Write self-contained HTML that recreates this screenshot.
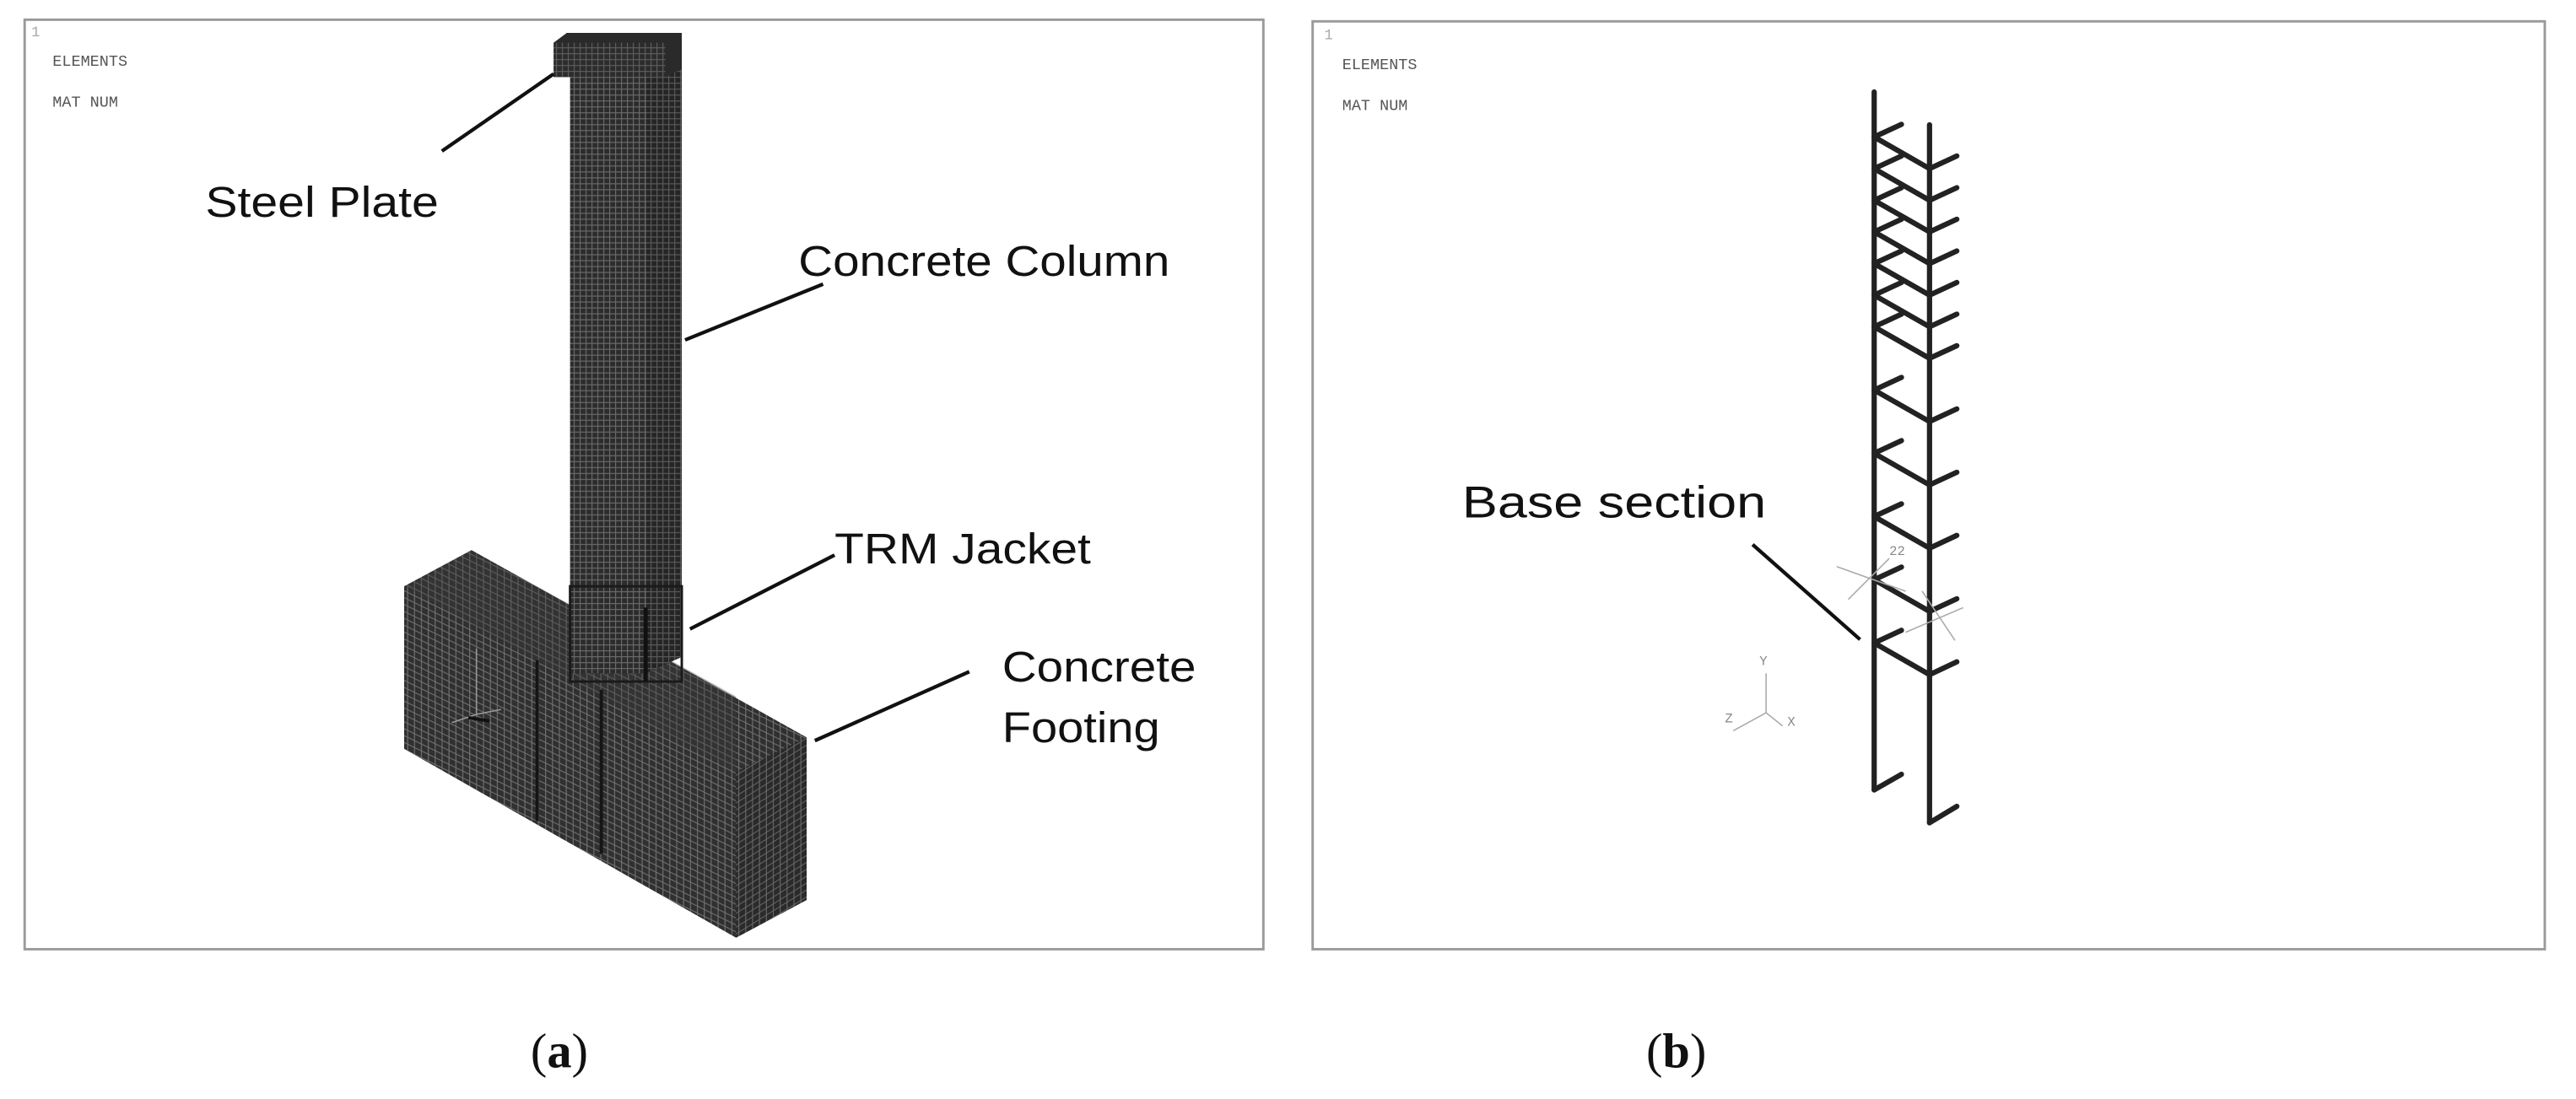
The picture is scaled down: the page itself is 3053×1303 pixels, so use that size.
<!DOCTYPE html>
<html><head><meta charset="utf-8"><style>
html,body{margin:0;padding:0;background:#fff;}
svg{display:block;}
</style></head><body>
<svg width="3053" height="1303" viewBox="0 0 1568 669.2" preserveAspectRatio="none" xmlns="http://www.w3.org/2000/svg">
<defs>
<pattern id="mesh" width="3.6" height="3.6" patternUnits="userSpaceOnUse">
<rect width="3.6" height="3.6" fill="#2c2c2c"/>
<path d="M0 0.3H3.6M0.3 0V3.6" stroke="#6a6a6a" stroke-width="0.6"/>
</pattern>
<pattern id="mesh2" width="4.2" height="4.2" patternUnits="userSpaceOnUse" patternTransform="skewY(26)">
<rect width="4.2" height="4.2" fill="#303030"/>
<path d="M0 0.3H4.2M0.3 0V4.2" stroke="#707070" stroke-width="0.6"/>
</pattern>
<pattern id="mesh3" width="4.2" height="4.2" patternUnits="userSpaceOnUse" patternTransform="skewY(-32)">
<rect width="4.2" height="4.2" fill="#2a2a2a"/>
<path d="M0 0.3H4.2M0.3 0V4.2" stroke="#666" stroke-width="0.6"/>
</pattern>
</defs>
<rect width="1568" height="669.2" fill="#fff"/>
<!-- Panel a -->
<rect x="15" y="12" width="754" height="566" fill="#fff" stroke="#9a9a9a" stroke-width="1.5"/>
<g font-family="'Liberation Mono',monospace" fill="#555">
<text x="19" y="22" font-size="9" fill="#aaa">1</text>
<text x="32" y="40" font-size="9.5">ELEMENTS</text>
<text x="32" y="65" font-size="9.5">MAT  NUM</text>
</g>
<!-- footing -->
<polygon points="246,357 287,335 491,449 491,548 448,571 246,456" fill="url(#mesh2)"/>
<polygon points="448,470 491,449 491,548 448,571" fill="url(#mesh3)"/>
<polygon points="246,357 287,335 448,424 448,470" fill="#3a3a3a" opacity="0.35"/>
<line x1="327" y1="402" x2="327" y2="500" stroke="#151515" stroke-width="2"/>
<line x1="366" y1="420" x2="366" y2="520" stroke="#151515" stroke-width="2"/>
<!-- column -->
<rect x="347" y="30" width="46" height="380" fill="url(#mesh)"/>
<polygon points="393,30 415,24 415,400 393,410" fill="url(#mesh)"/>
<polygon points="393,30 415,24 415,400 393,410" fill="#000" opacity="0.15"/>
<rect x="347" y="357" width="68" height="58" fill="none" stroke="#1a1a1a" stroke-width="1.5"/>
<line x1="393" y1="370" x2="393" y2="415" stroke="#111" stroke-width="2.5"/>
<!-- steel plate -->
<polygon points="337,26 345,20 415,20 415,42 405,47 337,47" fill="#2a2a2a"/>
<rect x="337" y="26" width="68" height="21" fill="url(#mesh)" opacity="0.8"/>
<!-- axis a -->
<g stroke="#999" stroke-width="0.8" fill="none"><line x1="290" y1="435" x2="290" y2="395"/><line x1="290" y1="435" x2="305" y2="432"/><line x1="290" y1="435" x2="275" y2="440"/></g>
<line x1="285" y1="437" x2="298" y2="439" stroke="#111" stroke-width="2"/>
<!-- leaders a -->
<g stroke="#111" stroke-width="2.2">
<line x1="337" y1="45" x2="269" y2="92"/>
<line x1="501" y1="173" x2="417" y2="207"/>
<line x1="508" y1="338" x2="420" y2="383"/>
<line x1="590" y1="409" x2="496" y2="451"/>
</g>
<g font-family="'Liberation Sans',Arial,sans-serif" font-size="26" fill="#111">
<text x="125" y="132" textLength="142" lengthAdjust="spacingAndGlyphs">Steel Plate</text>
<text x="486" y="168" textLength="226" lengthAdjust="spacingAndGlyphs">Concrete Column</text>
<text x="508" y="343" textLength="156" lengthAdjust="spacingAndGlyphs">TRM Jacket</text>
<text x="610" y="415" textLength="118" lengthAdjust="spacingAndGlyphs">Concrete</text>
<text x="610" y="452" textLength="96" lengthAdjust="spacingAndGlyphs">Footing</text>
</g>
<!-- Panel b -->
<rect x="799" y="13" width="750" height="565" fill="#fff" stroke="#9a9a9a" stroke-width="1.5"/>
<g font-family="'Liberation Mono',monospace" fill="#555">
<text x="806" y="24" font-size="9" fill="#aaa">1</text>
<text x="817" y="42" font-size="9.5">ELEMENTS</text>
<text x="817" y="67" font-size="9.5">MAT  NUM</text>
</g>
<g stroke="#222" stroke-width="3.2" stroke-linecap="round" fill="none">
<line x1="1140.8" y1="56" x2="1140.8" y2="481"/>
<line x1="1140.8" y1="481" x2="1157.4" y2="471.5"/>
<line x1="1174.5" y1="76" x2="1174.5" y2="501"/>
<line x1="1174.5" y1="501" x2="1191.1" y2="491"/>
<path d="M1140.8 83.4L1174.5 102.7M1140.8 83.4L1157.4 75.7M1174.5 102.7L1191.1 95
M1140.8 102.7L1174.5 122M1140.8 102.7L1157.4 95M1174.5 122L1191.1 114.3
M1140.8 122L1174.5 141.2M1140.8 122L1157.4 114.3M1174.5 141.2L1191.1 133.5
M1140.8 141.2L1174.5 160.5M1140.8 141.2L1157.4 133.5M1174.5 160.5L1191.1 152.8
M1140.8 160.5L1174.5 179.7M1140.8 160.5L1157.4 152.8M1174.5 179.7L1191.1 172
M1140.8 179.7L1174.5 199M1140.8 179.7L1157.4 172M1174.5 199L1191.1 191.3
M1140.8 199L1174.5 218.2M1140.8 199L1157.4 191.3M1174.5 218.2L1191.1 210.5
M1140.8 237.5L1174.5 256.7M1140.8 237.5L1157.4 229.8M1174.5 256.7L1191.1 249
M1140.8 276L1174.5 295.3M1140.8 276L1157.4 268.3M1174.5 295.3L1191.1 287.6
M1140.8 314.5L1174.5 333.8M1140.8 314.5L1157.4 306.8M1174.5 333.8L1191.1 326
M1140.8 353L1174.5 372.3M1140.8 353L1157.4 345.3M1174.5 372.3L1191.1 364.6
M1140.8 391.5L1174.5 410.8M1140.8 391.5L1157.4 383.8M1174.5 410.8L1191.1 403"/>
</g>
<g stroke="#aaa" stroke-width="0.8" fill="none">
<line x1="1118" y1="345" x2="1160" y2="360"/><line x1="1125" y1="365" x2="1150" y2="340"/>
<line x1="1160" y1="385" x2="1195" y2="370"/><line x1="1170" y1="360" x2="1190" y2="390"/>
<line x1="1075" y1="434" x2="1075" y2="410"/><line x1="1075" y1="434" x2="1085" y2="442"/><line x1="1075" y1="434" x2="1055" y2="445"/>
</g>
<g font-family="'Liberation Mono',monospace" font-size="8" fill="#888">
<text x="1071" y="405">Y</text><text x="1088" y="442">X</text><text x="1050" y="440">Z</text><text x="1150" y="338">22</text>
</g>
<line x1="1066.8" y1="331.6" x2="1132.2" y2="389.4" stroke="#111" stroke-width="2.2"/>
<text x="890" y="315" font-family="'Liberation Sans',Arial,sans-serif" font-size="27" fill="#111" textLength="185" lengthAdjust="spacingAndGlyphs">Base section</text>
<!-- captions -->
<g font-family="'Liberation Serif','Times New Roman',serif" font-size="30" fill="#111">
<text x="323" y="650">(<tspan font-weight="bold">a</tspan>)</text>
<text x="1002" y="650">(<tspan font-weight="bold">b</tspan>)</text>
</g>
</svg>
</body></html>
